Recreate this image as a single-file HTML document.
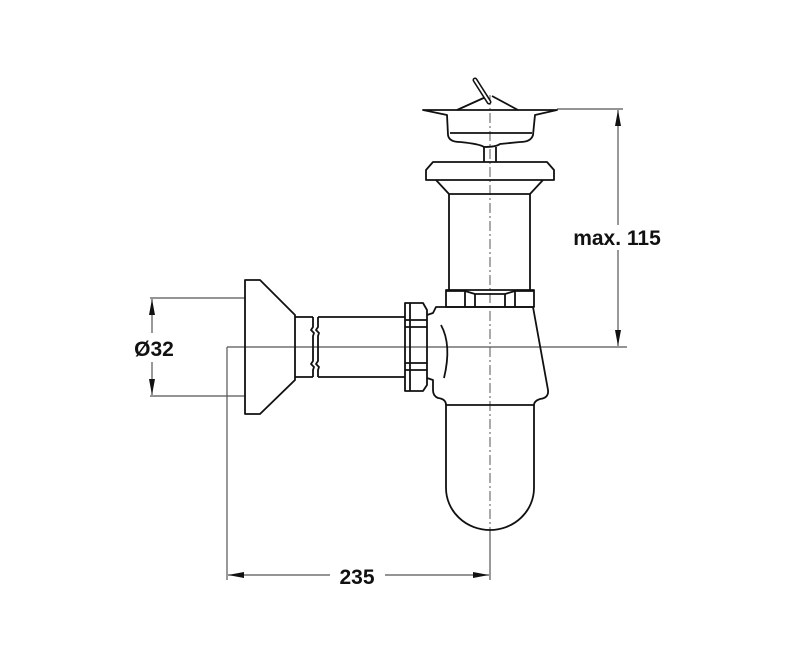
<!DOCTYPE html>
<html><head><meta charset="utf-8"><style>html,body{margin:0;padding:0;background:#fff}svg{display:block}</style></head>
<body>
<svg width="800" height="661" viewBox="0 0 800 661" xmlns="http://www.w3.org/2000/svg">
<defs>
<marker id="a" viewBox="0 0 16 6" refX="16" refY="3" markerWidth="16" markerHeight="6" markerUnits="userSpaceOnUse" orient="auto-start-reverse"><path d="M0,0 L16,3 L0,6z" fill="#111"/></marker>
</defs>
<g stroke="#555" stroke-width="1.2" fill="none">
<line x1="150" y1="298" x2="245" y2="298"/>
<line x1="150" y1="396" x2="245" y2="396"/>
<line x1="152" y1="299" x2="152" y2="333" marker-start="url(#a)"/>
<line x1="152" y1="362" x2="152" y2="395" marker-end="url(#a)"/>
<line x1="227" y1="347" x2="627" y2="347"/>
<line x1="227" y1="347" x2="227" y2="580"/>
<line x1="228" y1="575" x2="330" y2="575" marker-start="url(#a)"/>
<line x1="385" y1="575" x2="489" y2="575" marker-end="url(#a)"/>
<line x1="557" y1="109" x2="623" y2="109"/>
<line x1="618" y1="110" x2="618" y2="225" marker-start="url(#a)"/>
<line x1="618" y1="250" x2="618" y2="346" marker-end="url(#a)"/>
<line x1="490" y1="530" x2="490" y2="580"/>
</g>
<line x1="490" y1="95" x2="490" y2="530" stroke="#555" stroke-width="1" stroke-dasharray="10,3,2,3"/>
<g stroke="#111" stroke-width="1.8" fill="none" stroke-linejoin="round">
<path d="M245,280 L260,280 L295,315 L295,380 L260,414 L245,414 Z"/>
<path d="M295,317 L313,317 M318,317 L405,317 M295,377 L313,377 M318,377 L405,377"/>
<path d="M313,317 L313,327 L311,330 L314,333 L313,336 L313,361 L311,364 L314,367 L313,370 L313,377"/>
<path d="M318,317 L318,327 L316,330 L319,333 L318,336 L318,361 L316,364 L319,367 L318,370 L318,377"/>
<path d="M405,303 L423,303 L427,310 L427,385 L423,391 L405,391 Z"/>
<path d="M410,303 L410,391 M405,320 L427,320 M405,327 L427,327 M405,363 L427,363 M405,370 L427,370"/>
<path d="M427,315 L433,313 L436,307 L533,307 L548,390 Q549,398 540,399 Q534,401 534,405 M446,405 Q446,399 438,398 Q433,396 433,390 L433,380 L427,378"/>
<path d="M441,325 Q452,345 444,378"/>
<path d="M446,405 L534,405 M446,405 L446,488 A44,42 0 0 0 534,488 L534,405"/>
<path d="M446,290 L534,290 L534,307 L446,307 Z"/>
<path d="M446,291 L465,291 L475,294 L505,294 L515,291 L534,291 M465,291 L465,307 M475,294 L475,307 M505,294 L505,307 M515,291 L515,307"/>
<path d="M449,194 L449,290 M530,194 L530,290"/>
<path d="M433,162 L547,162 L554,170 L554,180 L426,180 L426,170 Z"/>
<path d="M436,180 L449,194 L530,194 L543,180"/>
<path d="M484,147 L484,162 M496,147 L496,162"/>
<path d="M423,110 L557,110 L535,115 L533,135 Q531,142 520,142 L500,144 Q496,147 484,147 Q480,144 460,142 Q449,142 448,135 L447,115 Z"/>
<path d="M450,133 L532,133"/>
<path d="M457,110 L488,96 M492,96 L518,110"/>
<path d="M475,80 L489,102" stroke-width="5" stroke-linecap="round"/>
</g>
<path d="M475,80 L489,102" stroke="#fff" stroke-width="2" stroke-linecap="round"/>
<g font-family="Liberation Sans, Arial, sans-serif" font-weight="bold" fill="#111" font-size="21">
<text x="617" y="245" text-anchor="middle">max. 115</text>
<text x="154" y="356" text-anchor="middle">Ø32</text>
<text x="357" y="584" text-anchor="middle">235</text>
</g>
</svg>
</body></html>
